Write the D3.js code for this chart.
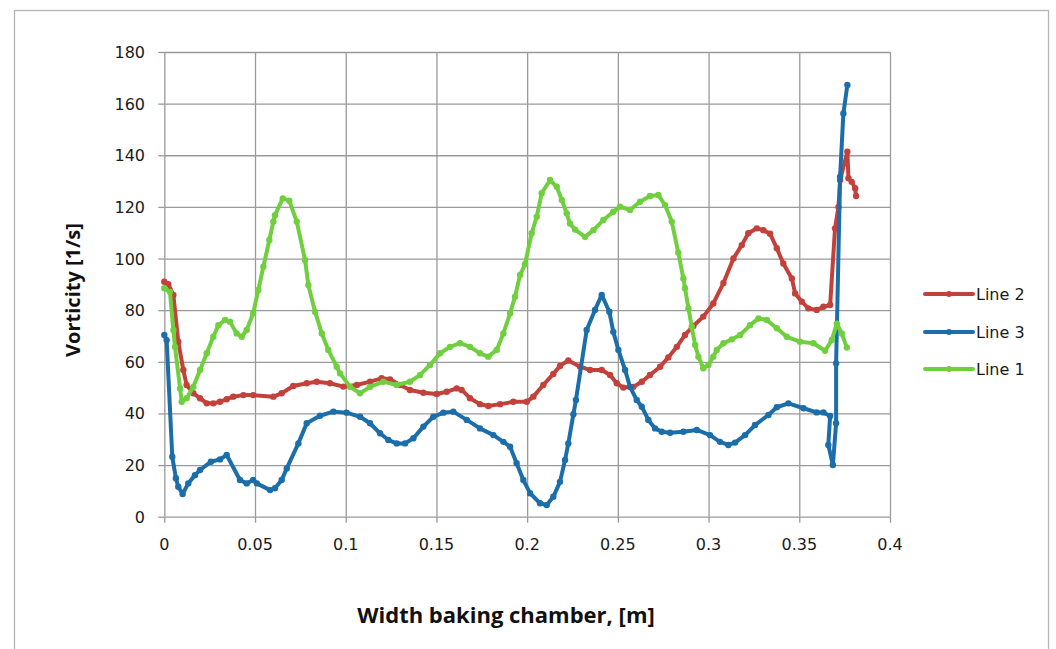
<!DOCTYPE html>
<html lang="en">
<head>
    <meta charset="utf-8" />
    <title>Vorticity</title>
    <script src="https://d3js.org/d3.v7.min.js"></script>
    <style>
    body{
      margin:0;
      background:#fff;
    }
    .tick-label{
      font-family: "DejaVu Sans", sans-serif;
      font-size: 16px;
      fill: #1a1a1a;
    }
    .axis-title{
      font-family: "Open Sans", Lato, sans-serif;
      font-weight: bold;
      font-size: 20px;
      fill: #111;
    }
    .grid line{
      stroke: #9a9a9a;
      stroke-width: 1.3px;
    }
    </style>
</head>
<body>
<div id="visFrame"></div>
<script>
  var width = 1056;
  var height = 649;

  // x in m, y in 1/s
  var line2 = [[0,91],[0.0022,90.1],[0.005,85.9],[0.0077,67.8],[0.0105,56.8],[0.0123,51],[0.016,47.8],[0.0197,45.9],[0.0234,43.9],[0.027,43.9],[0.0307,44.5],[0.0344,45.5],[0.038,46.5],[0.0436,47.1],[0.049,47.1],[0.0601,46.5],[0.0647,47.8],[0.0711,50.6],[0.0785,51.7],[0.084,52.3],[0.0913,51.7],[0.0987,50.4],[0.1061,51],[0.1134,52.3],[0.1198,53.6],[0.1244,53.2],[0.1299,51],[0.1354,49.1],[0.1428,48],[0.1502,47.5],[0.1557,48.4],[0.1612,49.7],[0.1639,49.1],[0.1685,45.9],[0.174,43.6],[0.1786,42.9],[0.1851,43.6],[0.1924,44.5],[0.1998,44.5],[0.2034,46.5],[0.2089,51],[0.2144,55.3],[0.2181,58.4],[0.2227,60.5],[0.2292,58.1],[0.2347,56.8],[0.2411,56.8],[0.2457,54.9],[0.2494,51.7],[0.253,50],[0.2585,50.3],[0.2632,52.3],[0.2677,54.9],[0.2733,58.1],[0.2778,61.7],[0.2825,65.8],[0.287,70.4],[0.2916,73.9],[0.2971,77.5],[0.3026,82.6],[0.3082,90.5],[0.3137,100],[0.3183,105.2],[0.3219,109.8],[0.3266,111.7],[0.3302,111],[0.3339,109.6],[0.3376,104],[0.3412,98.1],[0.3459,92.3],[0.3477,86.5],[0.3514,83.3],[0.355,80.7],[0.3596,80.1],[0.3633,81.3],[0.367,82],[0.3697,111.7],[0.3716,120],[0.3725,130.4],[0.3765,141.4],[0.3771,131.1],[0.3789,129.7],[0.3808,127.2],[0.3813,124.2]];

  var line3 = [[0,70.4],[0.0013,68.4],[0.0044,23.2],[0.0064,14.9],[0.0077,11.6],[0.0101,8.8],[0.0132,12.9],[0.0169,16.1],[0.0197,18.1],[0.0257,21.3],[0.0307,22.2],[0.0344,23.9],[0.0417,14.2],[0.0454,12.9],[0.049,14.2],[0.051,12.9],[0.0583,10.3],[0.061,11],[0.0647,14.2],[0.0675,18.7],[0.0739,28.4],[0.0785,36.2],[0.0858,39.1],[0.0932,40.7],[0.1005,40.3],[0.1079,38.7],[0.1134,36.2],[0.1189,32.3],[0.1235,29.7],[0.1281,28.4],[0.1327,28.4],[0.1373,30.4],[0.1428,34.9],[0.1483,38.7],[0.1538,40.3],[0.1593,40.7],[0.1667,37.5],[0.174,34.2],[0.1814,31.6],[0.1869,29],[0.1906,27.1],[0.1942,20.7],[0.1979,14.2],[0.2016,9.1],[0.2071,5.2],[0.2108,4.5],[0.2144,7.7],[0.2181,13.5],[0.2209,22],[0.2227,28.4],[0.2255,39.7],[0.2269,45.2],[0.2328,72.3],[0.2374,80.1],[0.2411,85.9],[0.2453,79.4],[0.2475,71.6],[0.2503,64.6],[0.254,56.8],[0.2567,50.3],[0.2604,45.2],[0.2632,42.6],[0.2668,37.5],[0.2705,34.2],[0.2742,32.9],[0.2788,32.5],[0.2861,32.9],[0.2935,33.6],[0.3008,31.6],[0.3063,29],[0.3109,27.8],[0.3146,28.7],[0.3201,31.6],[0.3256,35.5],[0.333,39.4],[0.3376,42.4],[0.344,43.9],[0.3523,42],[0.3596,40.4],[0.3633,40.4],[0.367,39],[0.366,27.8],[0.3685,20],[0.3703,36.2],[0.3703,59.4],[0.3725,131.7],[0.3743,156.2],[0.3765,167.2]];

  var line1 = [[0,88.5],[0.0031,87.1],[0.005,72.3],[0.0059,65.8],[0.0087,49.7],[0.0096,44.5],[0.0123,45.9],[0.016,50.3],[0.0197,56.8],[0.0234,63.3],[0.027,69.7],[0.0298,74.2],[0.0335,76.2],[0.0362,75.5],[0.0399,71],[0.0427,69.7],[0.0454,72.3],[0.049,78.8],[0.0518,87.8],[0.0546,96.8],[0.0579,107.2],[0.0601,114.3],[0.061,116.8],[0.0653,123.3],[0.0689,122.4],[0.073,114.3],[0.0776,99.4],[0.0794,89.7],[0.0831,79.4],[0.0868,71],[0.0904,64.6],[0.095,58.1],[0.0969,55.5],[0.1024,50.3],[0.1079,47.8],[0.1134,50.3],[0.1207,52.3],[0.1281,51],[0.1354,52.3],[0.141,54.9],[0.1465,58.8],[0.152,63.3],[0.1575,65.8],[0.163,67.2],[0.1685,65.8],[0.174,63.3],[0.1786,62],[0.1832,64.6],[0.1869,71],[0.1906,78.8],[0.1933,85.2],[0.1961,93.6],[0.1988,97.8],[0.2025,109.8],[0.2053,116.2],[0.208,125.3],[0.2126,130.4],[0.2163,127.8],[0.2191,122.7],[0.2218,117.5],[0.2236,113.6],[0.2264,111.2],[0.2319,108.4],[0.2365,111],[0.242,114.9],[0.2475,118.1],[0.2512,120.1],[0.2567,118.8],[0.2622,122],[0.2677,124.2],[0.2723,124.6],[0.276,120.7],[0.2797,114.3],[0.2833,102.3],[0.2861,92.3],[0.287,88.5],[0.2889,80.7],[0.2907,73.6],[0.2926,66.5],[0.2944,62],[0.2971,57.5],[0.2999,58.8],[0.3026,62],[0.3045,64.6],[0.3082,67.2],[0.3128,68.7],[0.3174,70.4],[0.3229,74.2],[0.3275,76.8],[0.3321,76.2],[0.3376,73],[0.3431,69.7],[0.3504,67.8],[0.3578,67.2],[0.3642,64.3],[0.3679,68.4],[0.3707,74.8],[0.3734,71],[0.3762,65.5]];

  var seriesNames = ["Line 2", "Line 3", "Line 1"];
  var seriesColors = ["#c2423b", "#1b6eaa", "#6fcf3e"];
  var xTicks = [0, 0.05, 0.1, 0.15, 0.2, 0.25, 0.3, 0.35, 0.4];
  var yTicks = [0, 20, 40, 60, 80, 100, 120, 140, 160, 180];

  var series = [line2, line3, line1];

  var x = d3.scaleLinear().domain([0, 0.4]).range([164.3, 890]);
  var y = d3.scaleLinear().domain([0, 180]).range([516.7, 52]);

  var svg = d3.select("#visFrame").append("svg")
      .attr("width", width)
      .attr("height", height);

  svg.append("rect")
      .attr("width", width).attr("height", height)
      .attr("fill", "#fff");

  // chart frame
  svg.append("rect")
      .attr("x", 14.5).attr("y", 10.5)
      .attr("width", 1034).attr("height", 660)
      .attr("fill", "none")
      .attr("stroke", "#b4b4b4")
      .attr("stroke-width", 1.3);

  // grid, drawn with the axis generators
  svg.append("g")
      .attr("class", "grid")
      .attr("transform", "translate(0," + y(0) + ")")
      .call(d3.axisBottom(x).tickValues(xTicks).tickSize(-(y(0) - y(180))).tickFormat(""))
      .call(function(g) { g.select(".domain").remove(); });

  svg.append("g")
      .attr("class", "grid")
      .attr("transform", "translate(" + x(0) + ",0)")
      .call(d3.axisLeft(y).tickValues(yTicks).tickSize(-(x(0.4) - x(0))).tickFormat(""))
      .call(function(g) { g.select(".domain").remove(); });

  // small outer tick marks
  svg.append("g")
      .attr("class", "grid")
      .attr("transform", "translate(0," + y(0) + ")")
      .call(d3.axisBottom(x).tickValues(xTicks).tickSize(6).tickFormat(""))
      .call(function(g) { g.select(".domain").remove(); });

  svg.append("g")
      .attr("class", "grid")
      .attr("transform", "translate(" + x(0) + ",0)")
      .call(d3.axisLeft(y).tickValues(yTicks).tickSize(6).tickFormat(""))
      .call(function(g) { g.select(".domain").remove(); });

  // tick labels
  svg.append("g").selectAll("text")
      .data(xTicks)
      .enter().append("text")
      .attr("class", "tick-label")
      .attr("x", function(d) { return x(d); })
      .attr("y", 550)
      .attr("text-anchor", "middle")
      .text(function(d) { return d; });

  svg.append("g").selectAll("text")
      .data(yTicks)
      .enter().append("text")
      .attr("class", "tick-label")
      .attr("x", 145)
      .attr("y", function(d) { return y(d) + 6; })
      .attr("text-anchor", "end")
      .text(function(d) { return d; });

  // axis titles
  svg.append("text")
      .attr("class", "axis-title")
      .attr("x", 506)
      .attr("y", 623)
      .attr("text-anchor", "middle")
      .style("font-size", "22px")
      .text("Width baking chamber, [m]");

  svg.append("text")
      .attr("class", "axis-title")
      .attr("transform", "translate(80,290) rotate(-90)")
      .attr("text-anchor", "middle")
      .text("Vorticity [1/s]");

  var line = d3.line()
      .x(function(d) { return x(d[0]); })
      .y(function(d) { return y(d[1]); });

  series.forEach(function(s, i) {
    var g = svg.append("g");
    g.append("path")
        .datum(s)
        .attr("d", line)
        .attr("fill", "none")
        .attr("stroke", seriesColors[i])
        .attr("stroke-width", 4)
        .attr("stroke-linejoin", "round");
    g.selectAll("circle")
        .data(s)
        .enter().append("circle")
        .attr("cx", function(d) { return x(d[0]); })
        .attr("cy", function(d) { return y(d[1]); })
        .attr("r", 3.2)
        .attr("fill", seriesColors[i]);
  });

  // legend
  var legend = svg.append("g").selectAll("g")
      .data(seriesNames)
      .enter().append("g")
      .attr("transform", function(d, i) { return "translate(925," + [294, 332, 369][i] + ")"; });

  legend.append("line")
      .attr("x1", 0).attr("x2", 48)
      .attr("stroke", function(d, i) { return seriesColors[i]; })
      .attr("stroke-width", 4)
      .attr("stroke-linecap", "round");

  legend.append("circle")
      .attr("cx", 24).attr("r", 3)
      .attr("fill", function(d, i) { return seriesColors[i]; });

  legend.append("text")
      .attr("class", "tick-label")
      .attr("x", 51)
      .attr("y", 6)
      .text(function(d) { return d; });
</script>
</body>
</html>
